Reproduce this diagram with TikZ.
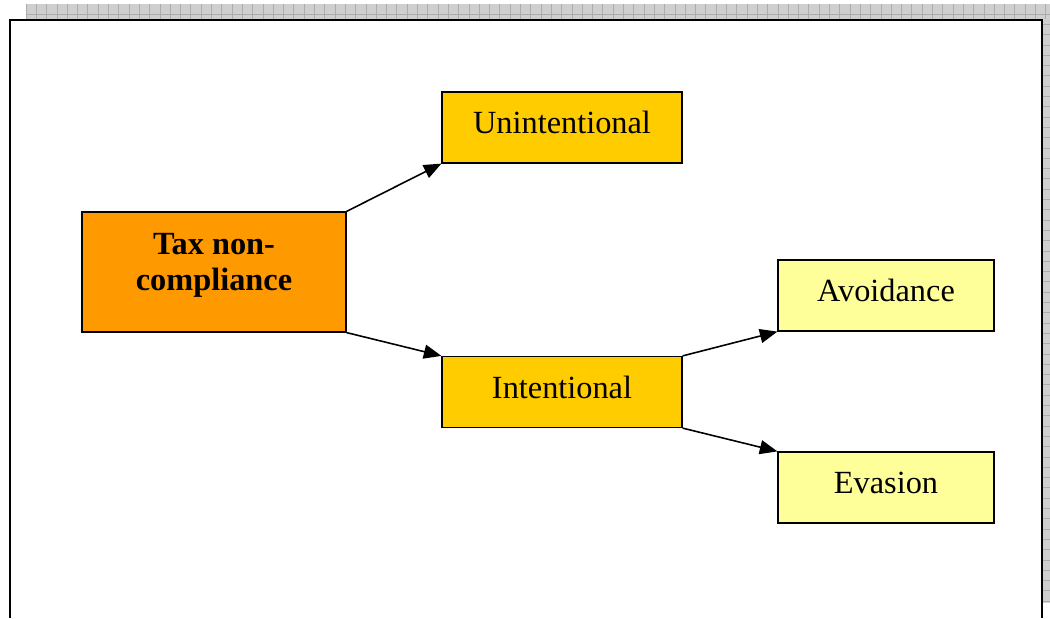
\documentclass[tikz,border=0pt]{standalone}
\usepackage{fontspec}
\setmainfont{Liberation Serif}
\usetikzlibrary{arrows.meta}

\definecolor{taxorange}{HTML}{FF9900}
\definecolor{kindgold}{HTML}{FFCC00}
\definecolor{leafyellow}{HTML}{FFFF99}

\begin{document}
\begin{tikzpicture}[x=0.02cm, y=-0.02cm,
    box/.style={draw=black, line width=0.7pt, inner sep=0pt, align=center,
      font=\fontsize{18.4}{20.5}\selectfont},
    kind/.style={box, fill=kindgold, minimum width=4.8cm, minimum height=1.42cm,
      text height=14pt, text depth=7pt},
    leaf/.style={kind, fill=leafyellow, minimum width=4.32cm},
    link/.style={-{Triangle[length=10pt, width=8pt]}, line width=0.9pt}]
  \useasboundingbox (0,0) rectangle (1050,618);

  % shaded edge of the page
  \fill[gray!38] (26,4) rectangle (1050,19);
  \fill[gray!38] (1043,4) rectangle (1050,603);
  \foreach \x in {26,36.3,...,1050}
    \draw[gray!65, line width=0.4pt] (\x,4) -- (\x,19);
  \draw[gray!65, line width=0.4pt] (26,14) -- (1050,14);
  \foreach \y in {14,24.3,...,603}
    \draw[gray!65, line width=0.4pt] (1043,\y) -- (1050,\y);

  % frame
  \draw[line width=1.2pt] (10,618) -- (10,20) -- (1042,20) -- (1042,618);

  \node (tax) at (214,272) [box, fill=taxorange, minimum width=5.28cm, minimum height=2.4cm,
    text depth=12pt, font=\fontsize{18.4}{20.5}\selectfont\bfseries] {Tax non-\\compliance};
  \node (unint) at (562,127.5) [kind] {Unintentional};
  \node (int) at (562,392) [kind] {Intentional};
  \node (avoid) at (886,295.5) [leaf] {Avoidance};
  \node (evas) at (886,487.5) [leaf] {Evasion};

  \draw[link] (tax.north east) -- (unint.south west);
  \draw[link] (tax.south east) -- (int.north west);
  \draw[link] (int.north east) -- (avoid.south west);
  \draw[link] (int.south east) -- (evas.north west);
\end{tikzpicture}
\end{document}
